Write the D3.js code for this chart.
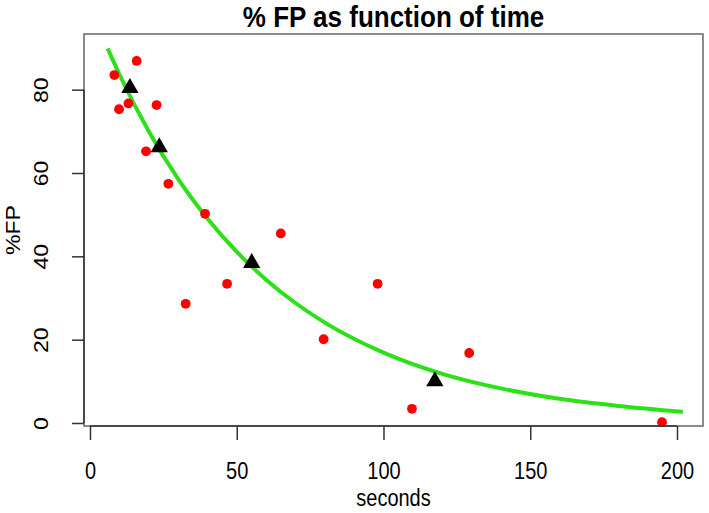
<!DOCTYPE html>
<html>
<head>
<meta charset="utf-8">
<script src="https://cdn.jsdelivr.net/npm/d3@7"></script>
<style>
body { margin: 0; background: #fff; }
svg { display: block; font-family: "Liberation Sans", Arial, sans-serif; }
</style>
</head>
<body>
<svg id="chart"></svg>
<script>
// observed points (seconds, %FP)
var obsSeconds = [8.3, 9.9, 13.1, 15.9, 19.1, 22.7, 26.7, 32.6, 39.2, 46.7, 65.0, 79.6, 98.0, 109.7, 129.2, 194.9];
var obsFP = [83.5, 75.3, 76.7, 86.9, 65.2, 76.3, 57.4, 28.6, 50.2, 33.4, 45.5, 20.1, 33.4, 3.4, 16.8, 0.2];

// group means (black triangles)
var meanSeconds = [13.6, 23.6, 55.1, 117.5];
var meanFP = [80.4, 66.2, 38.4, 10.0];

// fitted curve
var curveSeconds = [6, 10, 20, 30, 40, 50, 60, 70, 80, 100, 120, 140, 160, 180, 202];
var curveFP = [89.9, 83.7, 70.0, 58.6, 49.1, 41.1, 34.4, 28.8, 24.1, 16.9, 11.8, 8.3, 5.8, 4.1, 2.7];

var xTicks = [0, 50, 100, 150, 200];
var yTicks = [0, 20, 40, 60, 80];

var width = 709;
var height = 513;

//plot box in px
var boxLeft = 84, boxRight = 703, boxTop = 34, boxBottom = 426;
//text in the picture is a bit taller than wide
var stretch = 1.15;

var svg = d3.select("#chart")
            .attr("width", width)
            .attr("height", height);

svg.append("rect")
  .attr("width", width)
  .attr("height", height)
  .attr("fill", "white");

var x = d3.scaleLinear()
          .domain([-2.04, 208.86])
          .range([boxLeft, boxRight]);

var y = d3.scaleLinear()
          .domain([-0.72, 93.36])
          .range([boxBottom, boxTop]);

//title
svg.append("text")
  .text("% FP as function of time")
  .attr("transform", "translate(" + ((boxLeft + boxRight) / 2) + ",27) scale(1,1.1)")
  .attr("text-anchor", "middle")
  .attr("font-size", "26px")
  .attr("font-weight", "bold")
  .attr("fill", "black");

//curve
var line = d3.line()
  .x(function (d) { return x(d[0]); })
  .y(function (d) { return y(d[1]); })
  .curve(d3.curveMonotoneX);

svg.append("path")
  .datum(curveSeconds.map(function (s, i) { return [s, curveFP[i]]; }))
  .attr("d", line)
  .attr("fill", "none")
  .attr("stroke", "#2ee01a")
  .attr("stroke-width", 4);

//points
obsSeconds.forEach(function (s, i) {
  svg.append("circle")
    .attr("cx", x(s))
    .attr("cy", y(obsFP[i]))
    .attr("r", 4.9)
    .attr("fill", "#ff0000");
});

//means
var tri = d3.symbol().type(d3.symbolTriangle).size(130);
meanSeconds.forEach(function (s, i) {
  svg.append("path")
    .attr("d", tri)
    .attr("transform", "translate(" + x(s) + "," + y(meanFP[i]) + ")")
    .attr("fill", "black");
});

//box
svg.append("rect")
  .attr("x", boxLeft)
  .attr("y", boxTop)
  .attr("width", boxRight - boxLeft)
  .attr("height", boxBottom - boxTop)
  .attr("fill", "none")
  .attr("stroke", "#666")
  .attr("stroke-width", 1.5);

//x axis
var xAxis = svg.append("g")
  .attr("transform", "translate(0," + boxBottom + ")")
  .call(d3.axisBottom(x).tickValues(xTicks).tickSize(14));

xAxis.select(".domain").remove();
xAxis.append("line")
  .attr("x1", x(xTicks[0]))
  .attr("x2", x(xTicks[xTicks.length - 1]))
  .attr("stroke", "#333")
  .attr("stroke-width", 1.5);
xAxis.selectAll(".tick line").attr("stroke", "#333").attr("stroke-width", 1.5);
xAxis.selectAll(".tick text")
  .attr("font-size", "20px")
  .attr("font-family", "Liberation Sans, Arial, sans-serif")
  .attr("fill", "black")
  .attr("y", 0)
  .attr("dy", 0)
  .attr("transform", "translate(0,53) scale(1," + stretch + ")");

//y axis
var yAxis = svg.append("g")
  .attr("transform", "translate(" + boxLeft + ",0)")
  .call(d3.axisLeft(y).tickValues(yTicks).tickSize(12).tickFormat(d3.format("d")));

yAxis.select(".domain").remove();
yAxis.append("line")
  .attr("y1", y(yTicks[0]))
  .attr("y2", y(yTicks[yTicks.length - 1]))
  .attr("stroke", "#333")
  .attr("stroke-width", 1.5);
yAxis.selectAll(".tick line").attr("stroke", "#333").attr("stroke-width", 1.5);
yAxis.selectAll(".tick text")
  .attr("font-size", "20px")
  .attr("font-family", "Liberation Sans, Arial, sans-serif")
  .attr("fill", "black")
  .attr("text-anchor", "middle")
  .attr("x", 0)
  .attr("y", 0)
  .attr("dy", 0)
  .attr("transform", "translate(-36,0) rotate(-90) scale(" + stretch + ",1)");

//axis labels
svg.append("text")
  .text("seconds")
  .attr("transform", "translate(" + ((boxLeft + boxRight) / 2) + ",506) scale(1," + stretch + ")")
  .attr("text-anchor", "middle")
  .attr("font-size", "20px")
  .attr("fill", "black");

svg.append("text")
  .text("%FP")
  .attr("transform", "translate(20," + ((boxTop + boxBottom) / 2) + ") rotate(-90) scale(" + stretch + ",1)")
  .attr("text-anchor", "middle")
  .attr("font-size", "20px")
  .attr("fill", "black");
</script>
</body>
</html>
